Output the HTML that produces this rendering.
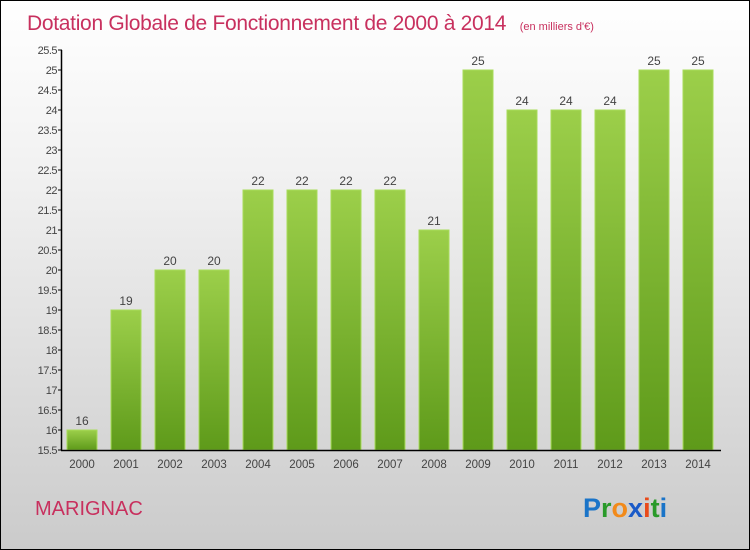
<!DOCTYPE html>
<html><head><meta charset="utf-8"><style>
body{margin:0}
#c{position:relative;width:748px;height:548px;border:1px solid #000;background:linear-gradient(#fff,#f2f2f2 30%,#cbcbcb);overflow:hidden;font-family:"Liberation Sans",sans-serif}
</style></head><body>
<div id="c">
<svg width="748" height="548" id="svg">
<defs><linearGradient id="g" x1="0" y1="0" x2="0" y2="1"><stop offset="0" stop-color="#9ccf4a"/><stop offset="1" stop-color="#5e9a1a"/></linearGradient></defs>
<text x="26" y="29" font-size="21" fill="#c8305e" letter-spacing="-0.3">Dotation Globale de Fonctionnement de 2000 à 2014 <tspan font-size="11" dx="8" letter-spacing="0">(en milliers d'€)</tspan></text>
<text x="34" y="514" font-size="20" fill="#c8305e">MARIGNAC</text>
<text x="582" y="516" font-size="27" font-weight="bold"><tspan fill="#1a74c8">P</tspan><tspan fill="#2a9a2a">r</tspan><tspan fill="#f28a1a">o</tspan><tspan fill="#1a5ac8">x</tspan><tspan fill="#e84a1a">i</tspan><tspan fill="#2a9a2a">t</tspan><tspan fill="#1a74c8">i</tspan></text>
<g id="plot"></g>
</svg></div>
<script>
const years=["2000","2001","2002","2003","2004","2005","2006","2007","2008","2009","2010","2011","2012","2013","2014"];
const values=[16,19,20,20,22,22,22,22,21,25,24,24,24,25,25];
const yTicks=[15.5,16,16.5,17,17.5,18,18.5,19,19.5,20,20.5,21,21.5,22,22.5,23,23.5,24,24.5,25,25.5];
const NS="http://www.w3.org/2000/svg";
const g=document.getElementById('plot');
const y=v=>449-(v-15.5)*40;
const x=i=>81+i*44;
function mk(t,a){const e=document.createElementNS(NS,t);for(const k in a)e.setAttribute(k,a[k]);g.appendChild(e);return e;}
values.forEach((v,i)=>{
 const r=mk('rect',{x:x(i)-15,y:y(v),width:30,height:y(15.5)-y(v),fill:'url(#g)',stroke:'#a8dc5a','stroke-width':1});
 
 
 const t=mk('text',{x:x(i),y:y(v)-5,'text-anchor':'middle','font-size':12,fill:'#444'});
 t.textContent=v;
 
 
 const l=mk('text',{x:x(i),y:467,'text-anchor':'middle','font-size':11.5,fill:'#444'});
 l.textContent=years[i];
 
 
});
yTicks.forEach(v=>{
 mk('line',{x1:57,x2:61,y1:y(v),y2:y(v),stroke:'#000'});
 const t=mk('text',{x:56,y:y(v)+4,'text-anchor':'end','font-size':11,fill:'#444','letter-spacing':'-0.5'});
 t.textContent=v;
 
 
});
const ya=mk('line',{x1:60.5,x2:60.5,y1:y(25.5),y2:y(15.5),stroke:'#000','stroke-width':1.5});


const xa=mk('line',{x1:60,x2:720,y1:y(15.5)+0.5,y2:y(15.5)+0.5,stroke:'#000','stroke-width':1.5});


</script>
</body></html>
